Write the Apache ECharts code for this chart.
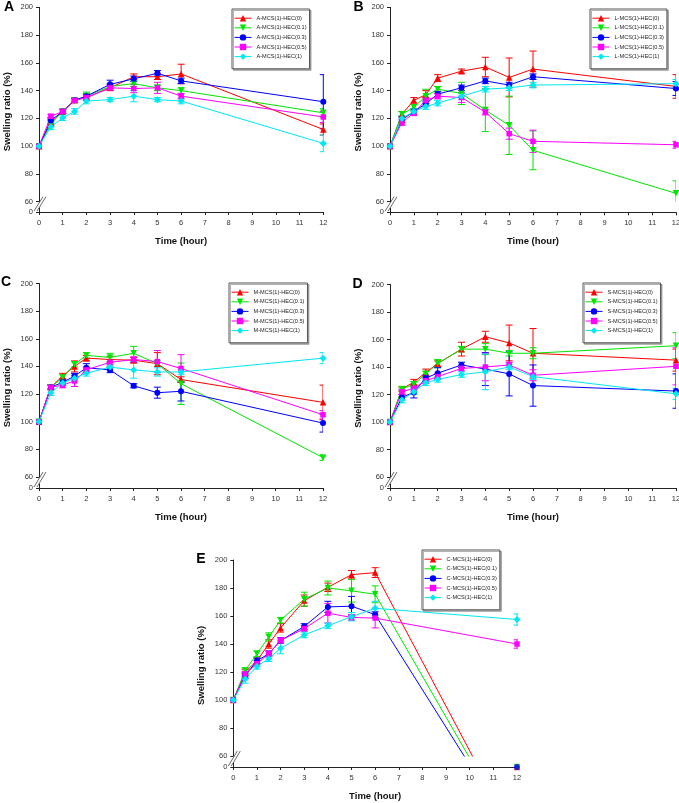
<!DOCTYPE html>
<html><head><meta charset="utf-8">
<script src="https://cdn.jsdelivr.net/npm/echarts@6/dist/echarts.min.js"></script>
<style>html,body{margin:0;padding:0;background:#fff}#c{width:679px;height:803px}</style>
</head><body><div id="c"></div>
<script>
// ---------- DATA ----------
const times = [0, 0.5, 1, 1.5, 2, 3, 4, 5, 6, 12];
const hecLevels = ['HEC(0)', 'HEC(0.1)', 'HEC(0.3)', 'HEC(0.5)', 'HEC(1)'];
const panelLetters = ['A', 'B', 'C', 'D', 'E'];
const panelPrefixes = ['A-MCS(1)-', 'L-MCS(1)-', 'M-MCS(1)-', 'S-MCS(1)-', 'C-MCS(1)-'];
const xTitle = 'Time (hour)';
const yTitle = 'Swelling ratio (%)';

// means per panel: rows = HEC(0), HEC(0.1), HEC(0.3), HEC(0.5), HEC(1)
const meanA = [
  [100, 117, 125, 133, 135, 142, 150, 150, 152, 112],
  [100, 116, 125, 133, 136, 143, 145, 142, 140, 124],
  [100, 118.5, 125, 133, 136, 144.5, 148.5, 152.5, 147, 132],
  [100, 121.5, 125, 133, 135, 142, 141.5, 142, 136, 121],
  [100, 114, 120.5, 125, 132.5, 133.5, 136, 133.5, 132.5, 102]
];
const errA = [
  [0, 2, 1.5, 1.5, 2, 2, 2, 2, 7, 4],
  [0, 2, 1.5, 1.5, 3, 2, 2, 2, 2, 3],
  [0, 2, 1.5, 1.5, 2, 3, 2, 2, 2, 19.5],
  [0, 1.5, 1.5, 1.5, 2, 2, 3, 4, 2, 4],
  [0, 2, 2, 2, 2, 1.5, 4, 1.5, 2, 6]
];
const meanB = [
  [100, 123, 133, 137, 149, 154, 157, 149.5, 155.5, 143],
  [100, 123, 128, 136, 141, 138, 126, 115, 97, 66],
  [100, 119, 125, 130.5, 137.5, 142, 147, 144, 150, 141.5],
  [100, 117, 124, 133, 136, 135, 124.5, 109, 103.5, 101],
  [100, 120, 125, 128.5, 131, 136, 141, 142, 144, 145]
];
const errB = [
  [0, 2, 2, 3, 2.5, 1.5, 7, 14, 13, 8.5],
  [0, 2, 2, 5, 2, 8, 15.5, 21, 14, 9],
  [0, 2, 2, 2, 2, 2, 2, 2, 2, 5],
  [0, 2, 2, 2, 2, 3.5, 2, 4, 8, 2.5],
  [0, 2, 2, 2, 2, 2, 2, 2, 2, 3]
];
const meanC = [
  [100, 125, 133, 140, 146, 145, 144.5, 142, 130.5, 114],
  [100, 125, 132, 141.5, 148, 146.5, 149.5, 142, 127.5, 74],
  [100, 125, 128.5, 133, 139, 137.5, 126, 121, 122, 99],
  [100, 125, 126.5, 129.5, 137.5, 143, 145, 143.5, 138.5, 105],
  [100, 121, 128, 131.5, 135, 139.5, 137.5, 136, 136, 146]
];
const errC = [
  [0, 1.5, 2, 4, 2, 2, 2, 8, 2, 12.5],
  [0, 1.5, 2, 2, 2, 3, 5, 2, 15, 2],
  [0, 1.5, 2, 2, 3, 2, 1.5, 4, 7, 6.5],
  [0, 1.5, 2, 4, 2, 2, 2, 8, 10, 3],
  [0, 2, 2, 2, 2, 2, 6, 3, 2, 4]
];
const meanD = [
  [100, 124, 129, 136, 142.5, 153, 162, 157.5, 150, 145],
  [100, 124, 127.5, 135, 142.5, 153, 153, 150, 150, 155.5],
  [100, 118, 121.5, 132, 135.5, 141.5, 138.5, 135, 126.5, 122.5],
  [100, 122, 124.5, 130, 133, 139, 140, 141.5, 134, 140.5],
  [100, 116, 122, 128.5, 131, 134.5, 136.5, 140, 133, 120.5]
];
const errD = [
  [0, 1.5, 2, 2.5, 2, 5, 4, 13, 18, 8],
  [0, 1.5, 2, 2, 3, 2, 4, 2, 4, 9.5],
  [0, 2, 4, 2, 4, 2, 12, 16, 15, 12.5],
  [0, 2, 2, 2, 2, 2, 10, 2, 4, 13.5],
  [0, 2, 2, 2, 2, 2, 13, 2, 2, 4]
];
const meanE = [
  [100, 120, 128, 140, 151.5, 171, 180.5, 189.5, 191, 0],
  [100, 121, 133, 145, 157, 172, 180, 178, 175.5, 0],
  [100, 117.5, 128, 133, 142.5, 152.5, 166.5, 167, 161, 0],
  [100, 118.5, 126, 133, 142.5, 151, 162, 159, 158.5, 140],
  [100, 115, 124, 129.5, 137, 146.5, 153, 159.5, 165.5, 157.5]
];
const errE = [
  [0, 2, 2, 3, 3, 4, 3, 3, 3.5, 0],
  [0, 2, 2, 3, 2, 5, 5, 8, 6, 0],
  [0, 2, 2, 2, 2, 2, 4, 7, 2, 0],
  [0, 2, 2, 2, 2, 2, 7, 2, 7, 3],
  [0, 3, 2, 2, 4, 2, 2, 3, 5, 4]
];
const allMeans = [meanA, meanB, meanC, meanD, meanE];
const allErrs = [errA, errB, errC, errD, errE];

// ---------- STYLE / LAYOUT ----------
const FONT = '"Liberation Sans", Arial, sans-serif';
const colors = ['#ff0000', '#00e600', '#0000ff', '#ff00ff', '#00e8f0'];
const symbols = ['triangle', 'path://M0,0 L10,0 L5,9 Z', 'circle', 'rect', 'diamond'];
const symSizes = [6.5, 6.5, 6, 5.5, 7];
const layout = [
  {left: 39, right: 323.3, top: 7.3, y60: 201.7, y0: 212, lg: [232, 9], letter: [9, 7.5]},
  {left: 390, right: 676, top: 7.3, y60: 201.7, y0: 212.3, lg: [590, 9], letter: [358.5, 7]},
  {left: 39, right: 323, top: 283.5, y60: 477, y0: 488, lg: [229, 283], letter: [6, 282.5]},
  {left: 390, right: 676, top: 284.5, y60: 477, y0: 488, lg: [583, 283], letter: [357.5, 284]},
  {left: 233.3, right: 517, top: 560, y60: 756, y0: 767, lg: [422, 550], letter: [201, 559]}
];

const grid = [], xAxis = [], yAxis = [], series = [], legend = [], graphic = [];
const axisColor = '#222';

layout.forEach((L, p) => {
  const w = L.right - L.left;
  const lowH = 4;
  grid.push({left: L.left, top: L.top, width: w, height: L.y60 - L.top, outerBoundsMode: 'none', containLabel: false});
  grid.push({left: L.left, top: L.y0 - lowH, width: w, height: lowH, outerBoundsMode: 'none', containLabel: false});
  const gu = 2 * p, gl = 2 * p + 1;
  xAxis.push({gridIndex: gu, type: 'value', min: 0, max: 12, show: false});
  xAxis.push({
    gridIndex: gl, type: 'value', min: 0, max: 12, interval: 1,
    axisLine: {show: true, lineStyle: {color: axisColor, width: 1}},
    axisTick: {show: true, length: 3, lineStyle: {color: axisColor}},
    axisLabel: {fontSize: 7.5, color: '#333', margin: 7, fontFamily: FONT},
    splitLine: {show: false},
    name: xTitle, nameLocation: 'middle', nameGap: 24,
    nameTextStyle: {fontSize: 9.5, fontWeight: 'bold', color: '#111', fontFamily: FONT}
  });
  yAxis.push({
    gridIndex: gu, type: 'value', min: 60, max: 200, interval: 20,
    axisLine: {show: true, lineStyle: {color: axisColor, width: 1}},
    axisTick: {show: true, length: 3, lineStyle: {color: axisColor}},
    axisLabel: {fontSize: 7.5, color: '#333', margin: 6, fontFamily: FONT},
    splitLine: {show: false}
  });
  yAxis.push({
    gridIndex: gl, type: 'value', min: 0, max: lowH / 1.4,
    axisLine: {show: true, lineStyle: {color: axisColor, width: 1}},
    axisTick: {show: true, length: 3, customValues: [0], lineStyle: {color: axisColor}},
    axisLabel: {fontSize: 7.5, color: '#333', margin: 6, fontFamily: FONT, customValues: [0],
      formatter: v => (v === 0 ? '0' : '')},
    splitLine: {show: false}
  });

  const names = [];
  const means = allMeans[p], errs = allErrs[p];
  hecLevels.forEach((h, s) => {
    const name = panelPrefixes[p] + h;
    names.push(name);
    const col = colors[s];
    series.push({
      type: 'custom', name: name + ' err', xAxisIndex: gu, yAxisIndex: gu, clip: true, silent: true, z: 2,
      data: times.map((t, i) => [t, means[s][i], errs[s][i]]),
      encode: {x: 0, y: 1},
      renderItem: (params, api) => {
        const x = api.value(0), y = api.value(1), e = api.value(2);
        if (!e) return null;
        const a = api.coord([x, y + e]), b = api.coord([x, y - e]);
        const cw = 3.5;
        const st = {stroke: col, lineWidth: 1};
        return {type: 'group', children: [
          {type: 'line', shape: {x1: a[0], y1: a[1], x2: b[0], y2: b[1]}, style: st},
          {type: 'line', shape: {x1: a[0] - cw, y1: a[1], x2: a[0] + cw, y2: a[1]}, style: st},
          {type: 'line', shape: {x1: b[0] - cw, y1: b[1], x2: b[0] + cw, y2: b[1]}, style: st}
        ]};
      }
    });
    series.push({
      type: 'line', name: name, xAxisIndex: gu, yAxisIndex: gu, clip: true, z: 3,
      data: times.map((t, i) => [t, means[s][i]]),
      symbol: symbols[s], symbolSize: symSizes[s], showAllSymbol: true,
      lineStyle: {color: col, width: 1}, itemStyle: {color: col}
    });
    series.push({
      type: 'scatter', name: name + ' low', xAxisIndex: gl, yAxisIndex: gl, clip: true, z: 3,
      data: times.map((t, i) => [t, means[s][i]]),
      symbol: symbols[s], symbolSize: symSizes[s], itemStyle: {color: col}
    });
  });

  legend.push({
    data: names, left: L.lg[0], top: L.lg[1], orient: 'vertical', selectedMode: false,
    itemWidth: 17, itemHeight: 8, itemGap: 3.2, padding: [6, 3, 9, 2],
    lineStyle: {width: 1},
    borderColor: '#555', borderWidth: 1, backgroundColor: '#fff',
    shadowColor: 'rgba(0,0,0,0.3)', shadowOffsetX: 1.5, shadowOffsetY: 1.5, shadowBlur: 0,
    textStyle: {fontSize: 5.6, color: '#222', fontFamily: FONT}
  });

  // panel letter
  graphic.push({type: 'text', x: L.letter[0], y: L.letter[1], z: 10,
    style: {text: panelLetters[p], fontSize: 14, fontWeight: 'bold', fontFamily: FONT, fill: '#000',
      align: 'center', verticalAlign: 'middle'}});
  // y title
  graphic.push({type: 'text', x: L.left - 32, y: (L.top + L.y0) / 2 + 2, rotation: Math.PI / 2, z: 10,
    style: {text: yTitle, fontSize: 9.5, fontWeight: 'bold', fontFamily: FONT, fill: '#111',
      align: 'center', verticalAlign: 'middle'}});
  // axis break marks
  [0, 3].forEach(dx => {
    graphic.push({type: 'line', z: 10,
      shape: {x1: L.left - 5 + dx, y1: L.y0 - 1, x2: L.left + 4 + dx, y2: L.y60 - 5},
      style: {stroke: '#444', lineWidth: 0.8}});
  });
});

const chart = echarts.init(document.getElementById('c'), null, {renderer: 'canvas'});
chart.setOption({
  animation: false,
  backgroundColor: '#fff',
  textStyle: {fontFamily: FONT},
  grid, xAxis, yAxis, series, legend, graphic
});
</script></body></html>
